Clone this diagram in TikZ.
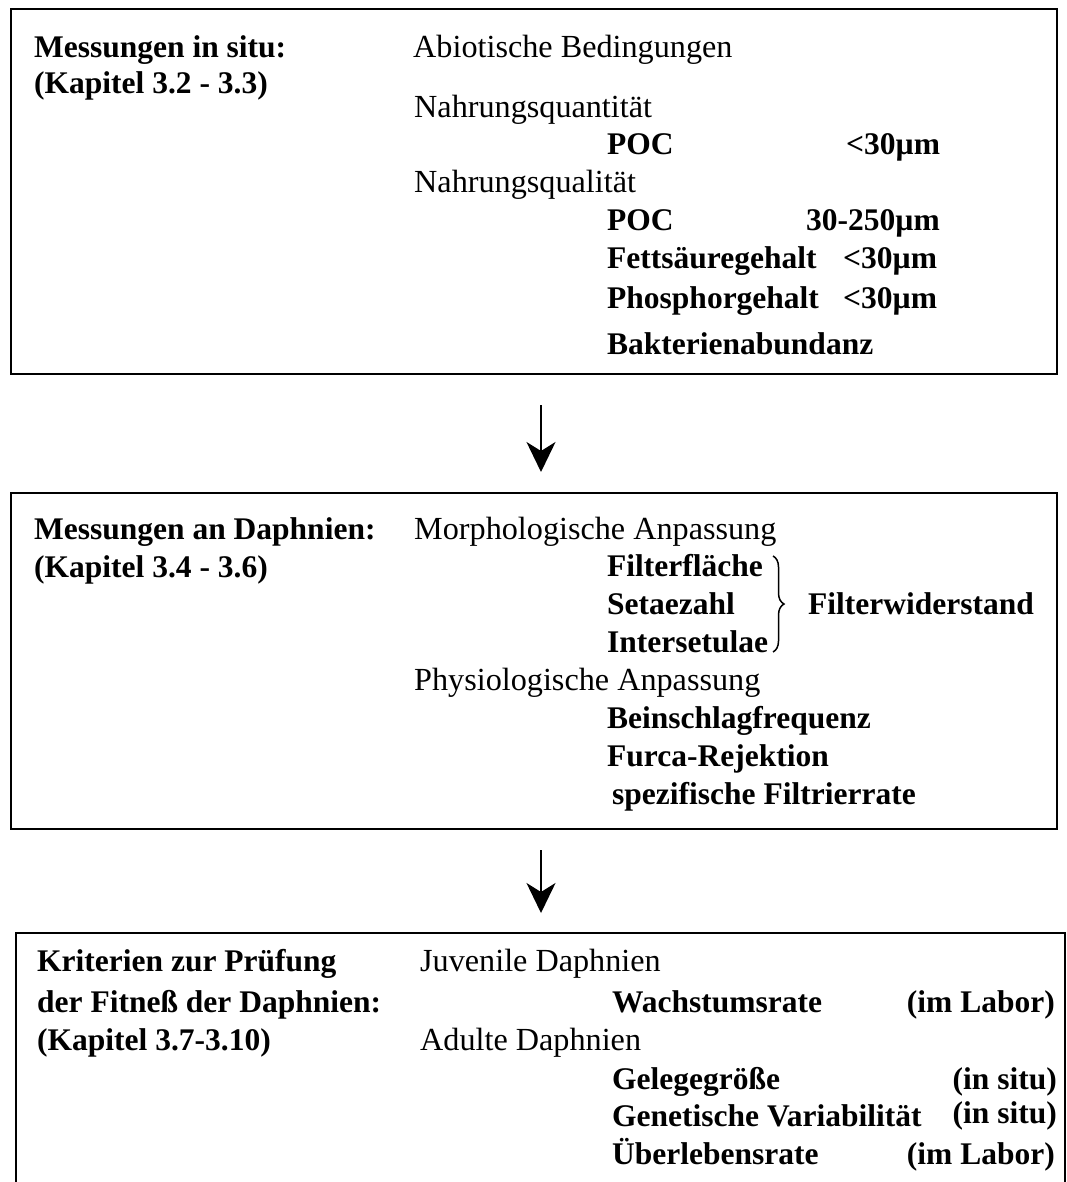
\documentclass[tikz,border=0pt]{standalone}
\usepackage{fontspec}
\setmainfont{Liberation Serif}
\usetikzlibrary{arrows.meta,decorations.pathreplacing}
\begin{document}
\begin{tikzpicture}[x=1pt,y=-1pt,
  txt/.style={anchor=base west,inner sep=0pt,font=\fontsize{32.2}{36}\selectfont},
  btxt/.style={anchor=base west,inner sep=0pt,font=\fontsize{31.5}{36}\selectfont\bfseries},
  rtxt/.style={anchor=base east,inner sep=0pt,font=\fontsize{31.5}{36}\selectfont\bfseries},
  box/.style={draw,line width=2pt,inner sep=0pt,anchor=north west},
  arr/.style={line width=2pt,-{Stealth[length=30pt,width=29pt,inset=9pt]}},
  bracestyle/.style={line width=1.5pt,decorate,decoration={brace,amplitude=11pt}}]
\clip (0,0) rectangle (1066,1182);
% boxes
\node[box,minimum width=1046pt,minimum height=365pt] (box1) at (10,8) {};
\node[box,minimum width=1046pt,minimum height=336pt] (box2) at (10,492) {};
\node[box,minimum width=1049pt,minimum height=270pt] (box3) at (15,932) {};
% arrows
\coordinate (a1s) at (541,405);
\coordinate (a1e) at (541,472);
\coordinate (a2s) at (541,850);
\coordinate (a2e) at (541,913);
\draw[arr] (a1s) -- (a1e);
\draw[arr] (a2s) -- (a2e);
% box 1
\node[btxt] (t11) at (34,58) {Messungen in situ:};
\node[btxt] (t12) at (34,94) {(Kapitel 3.2 - 3.3)};
\node[txt] (t13) at (413,58) {Abiotische Bedingungen};
\node[txt] (t14) at (414,118) {Nahrungsquantität};
\node[btxt] (t15) at (607,155) {POC};
\node[btxt] (t16) at (846,155) {<30µm};
\node[txt] (t17) at (414,193) {Nahrungsqualität};
\node[btxt] (t18) at (607,231) {POC};
\node[btxt] (t19) at (806,231) {30-250µm};
\node[btxt] (t110) at (607,269) {Fettsäuregehalt};
\node[btxt] (t111) at (843,269) {<30µm};
\node[btxt] (t112) at (607,308) {Phosphorgehalt};
\node[btxt] (t113) at (843,308) {<30µm};
\node[btxt] (t114) at (607,354) {Bakterienabundanz};
% box 2
\node[btxt] (t21) at (34,539) {Messungen an Daphnien:};
\node[btxt] (t22) at (34,577) {(Kapitel 3.4 - 3.6)};
\node[txt] (t23) at (414,539) {Morphologische Anpassung};
\node[btxt] (t24) at (607,576) {Filterfläche};
\node[btxt] (t25) at (607,614) {Setaezahl};
\node[btxt] (t26) at (607,652) {Intersetulae};
\coordinate (br1) at (773,556);
\coordinate (br2) at (773,652);
\draw[bracestyle] (br1) -- (br2);
\node[btxt] (t27) at (808,614) {Filterwiderstand};
\node[txt] (t28) at (414,690) {Physiologische Anpassung};
\node[btxt] (t29) at (607,728) {Beinschlagfrequenz};
\node[btxt] (t210) at (607,766) {Furca-Rejektion};
\node[btxt] (t211) at (612,804) {spezifische Filtrierrate};
% box 3
\node[btxt] (t31) at (37,971) {Kriterien zur Prüfung};
\node[btxt] (t32) at (37,1012) {der Fitneß der Daphnien:};
\node[btxt] (t33) at (37,1050) {(Kapitel 3.7-3.10)};
\node[txt] (t34) at (420,971) {Juvenile Daphnien};
\node[btxt] (t35) at (612,1012) {Wachstumsrate};
\node[rtxt] (t36) at (1055,1012) {(im Labor)};
\node[txt] (t37) at (420,1050) {Adulte Daphnien};
\node[btxt] (t38) at (612,1089) {Gelegegröße};
\node[rtxt] (t39) at (1057,1089) {(in situ)};
\node[btxt] (t310) at (612,1126) {Genetische Variabilität};
\node[rtxt] (t311) at (1057,1123) {(in situ)};
\node[btxt] (t312) at (612,1164) {Überlebensrate};
\node[rtxt] (t313) at (1055,1164) {(im Labor)};
\end{tikzpicture}
\end{document}
